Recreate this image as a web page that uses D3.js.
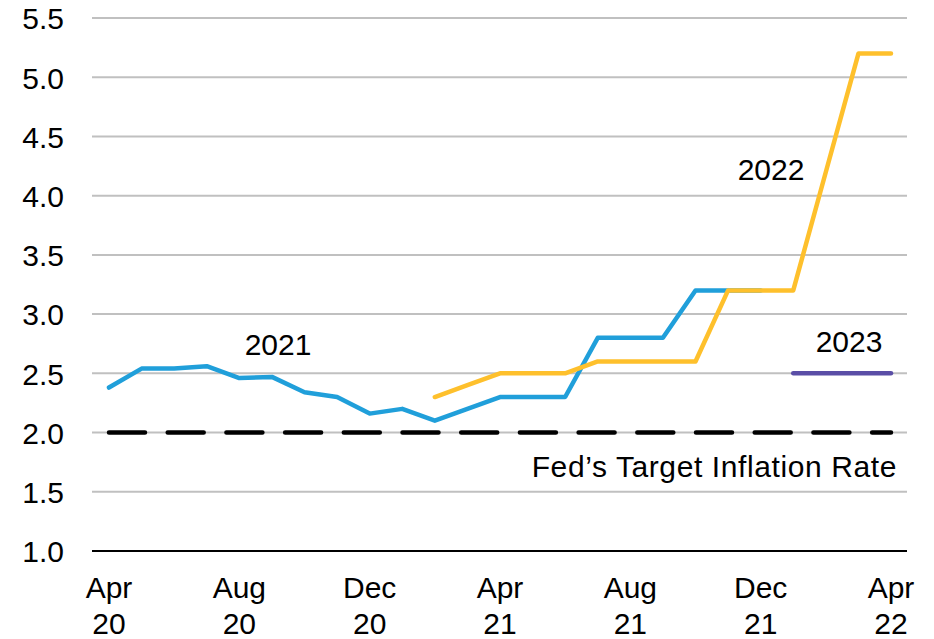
<!DOCTYPE html>
<html>
<head>
<meta charset="utf-8">
<script src="https://cdn.jsdelivr.net/npm/d3@7"></script>
<style>
  html, body { margin: 0; padding: 0; background: #fff; }
  svg { display: block; }
</style>
</head>
<body>
<svg id="chart" width="934" height="639"></svg>
<script>
// Monthly observations, Apr 2020 through Apr 2022
const months = ["2020-04","2020-05","2020-06","2020-07","2020-08","2020-09","2020-10","2020-11","2020-12",
  "2021-01","2021-02","2021-03","2021-04","2021-05","2021-06","2021-07","2021-08","2021-09","2021-10",
  "2021-11","2021-12","2022-01","2022-02","2022-03","2022-04"];

// Expected inflation for 2021 (from Apr 20 to Dec 21)
const series2021 = [2.38, 2.54, 2.54, 2.56, 2.46, 2.47, 2.34, 2.30, 2.16, 2.20, 2.10, 2.20, 2.30,
  2.30, 2.30, 2.80, 2.80, 2.80, 3.20, 3.20, 3.20, null, null, null, null];
// Expected inflation for 2022 (from Feb 21 to Apr 22)
const series2022 = [null, null, null, null, null, null, null, null, null, null, 2.30, 2.40, 2.50,
  2.50, 2.50, 2.60, 2.60, 2.60, 2.60, 3.20, 3.20, 3.20, 4.20, 5.20, 5.20];
// Expected inflation for 2023 (from Jan 22 to Apr 22)
const series2023 = [null, null, null, null, null, null, null, null, null, null, null, null, null,
  null, null, null, null, null, null, null, null, 2.50, 2.50, 2.50, 2.50];
// Fed target
const targetRate = months.map(() => 2.0);

const yTicks = [1.0, 1.5, 2.0, 2.5, 3.0, 3.5, 4.0, 4.5, 5.0, 5.5];
const xTickMonths = ["2020-04","2020-08","2020-12","2021-04","2021-08","2021-12","2022-04"];
const xTickLabels = [["Apr","20"],["Aug","20"],["Dec","20"],["Apr","21"],["Aug","21"],["Dec","21"],["Apr","22"]];

const svg = d3.select("#chart");
const x = d3.scalePoint().domain(months).range([109, 891]);
const y = d3.scaleLinear().domain([1.0, 5.5]).range([551, 18]);
const gridLeft = 92, gridRight = 907;
const font = "'Liberation Sans', Arial, sans-serif";

// Horizontal gridlines
svg.append("g").selectAll("line")
  .data(yTicks.filter(d => d > 1.0))
  .join("line")
  .attr("x1", gridLeft).attr("x2", gridRight)
  .attr("y1", d => y(d)).attr("y2", d => y(d))
  .attr("stroke", "#c0c0c0").attr("stroke-width", 2);

// Bottom axis line
svg.append("line")
  .attr("x1", gridLeft).attr("x2", gridRight)
  .attr("y1", y(1.0)).attr("y2", y(1.0))
  .attr("stroke", "#000").attr("stroke-width", 2);

// Y axis labels
const yAxis = d3.axisLeft(y).tickValues(yTicks).tickFormat(d3.format(".1f")).tickSize(0).tickPadding(0);
const gy = svg.append("g").attr("transform", "translate(64,0)").call(yAxis);
gy.select(".domain").remove();
gy.selectAll("text")
  .attr("font-family", font)
  .attr("font-size", 30).attr("fill", "#000").attr("dy", "0.36em");

// X axis labels (two lines)
const xl = svg.append("g").selectAll("text")
  .data(xTickMonths)
  .join("text")
  .attr("x", d => x(d))
  .attr("text-anchor", "middle")
  .attr("font-family", font)
  .attr("font-size", 30).attr("fill", "#000");
xl.append("tspan").attr("x", d => x(d)).attr("y", 598).text((d, i) => xTickLabels[i][0]);
xl.append("tspan").attr("x", d => x(d)).attr("y", 634).text((d, i) => xTickLabels[i][1]);

// Target line
svg.append("path")
  .datum(targetRate)
  .attr("fill", "none").attr("stroke", "#000").attr("stroke-width", 4.5)
  .attr("stroke-dasharray", "36,22.7").attr("stroke-linecap", "round")
  .attr("d", d3.line().x((d, i) => x(months[i])).y(d => y(d)));

const line = d3.line()
  .defined(d => d != null)
  .x((d, i) => x(months[i]))
  .y(d => y(d));

function drawSeries(values, color) {
  svg.append("path")
    .datum(values)
    .attr("fill", "none").attr("stroke", color).attr("stroke-width", 4.5)
    .attr("stroke-linejoin", "round").attr("stroke-linecap", "round")
    .attr("d", line);
}
drawSeries(series2021, "#209fda");
drawSeries(series2022, "#fec02c");
drawSeries(series2023, "#5a4ea6");

// Annotations
const ann = [
  { text: "2021", x: 278, y: 355, anchor: "middle", ls: 0 },
  { text: "2022", x: 771, y: 180, anchor: "middle", ls: 0 },
  { text: "2023", x: 849, y: 352, anchor: "middle", ls: 0 },
  { text: "Fed\u2019s Target Inflation Rate", x: 897, y: 477, anchor: "end", ls: 0.6 }
];
svg.append("g").selectAll("text")
  .data(ann).join("text")
  .attr("x", d => d.x).attr("y", d => d.y)
  .attr("text-anchor", d => d.anchor)
  .attr("letter-spacing", d => d.ls)
  .attr("font-family", font)
  .attr("font-size", 30).attr("fill", "#000")
  .text(d => d.text);
</script>
</body>
</html>
